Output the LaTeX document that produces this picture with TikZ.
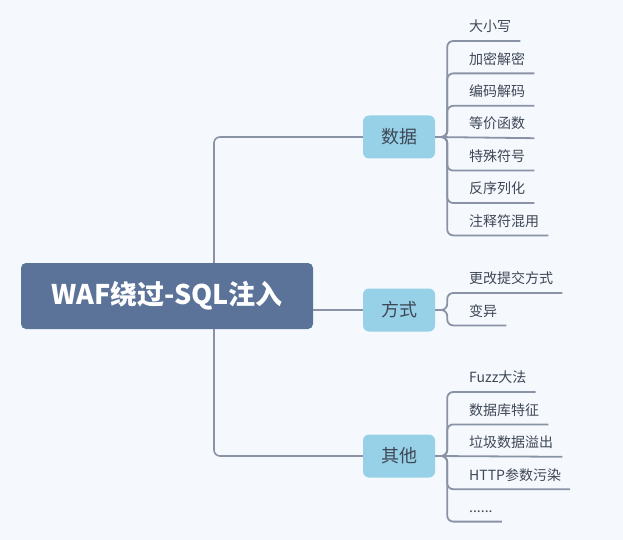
\documentclass[tikz,border=0pt]{standalone}
\usepackage{fontspec}
\setmainfont{Noto Sans CJK SC}
\usepackage{tikz}
\usetikzlibrary{positioning}
\definecolor{bgcol}{HTML}{F5F9FD}
\definecolor{rootcol}{HTML}{5B7399}
\definecolor{subcol}{HTML}{96D1E7}
\definecolor{linecol}{HTML}{8A93A6}
\definecolor{txtcol}{HTML}{3F4756}

\begin{document}
\begin{tikzpicture}[
  x=1pt, y=-1pt,
  node distance=0pt and 0pt,
  rootnode/.style={fill=rootcol,rounded corners=5pt,minimum width=292pt,minimum height=66pt,
    text=white,font=\fontsize{27}{30}\selectfont\bfseries},
  subnode/.style={fill=subcol,rounded corners=6pt,minimum width=72pt,minimum height=43pt,
    text=txtcol,font=\fontsize{18}{20}\selectfont},
  leaf/.style={anchor=south west,inner xsep=9pt,inner ysep=0pt,text height=23pt,text depth=9pt,
    text=txtcol,font=\fontsize{14}{16}\selectfont},
  trunk/.style={draw=linecol,line width=1.6pt,rounded corners=6pt},
  branch/.style={draw=linecol,line width=1.8pt,rounded corners=6pt}
]
\fill[bgcol] (0,0) rectangle (623,540);
\useasboundingbox (0,0) rectangle (623,540);

\coordinate (tr) at (214,296);
\node[rootnode] (root) at (167,296) {WAF绕过-SQL注入};
\node[subnode] (shuju) at (399,137) {数据};
\node[subnode] (fangshi) at (399,310) {方式};
\node[subnode] (qita) at (399,456) {其他};

% 数据
\node[leaf] (d1) at (460,41) {大小写};
\node[leaf,below=of d1.south west,anchor=north west] (d2) {加密解密};
\node[leaf,below=of d2.south west,anchor=north west] (d3) {编码解码};
\node[leaf,below=of d3.south west,anchor=north west] (d4) {等价函数};
\node[leaf,below=of d4.south west,anchor=north west] (d5) {特殊符号};
\node[leaf,below=of d5.south west,anchor=north west] (d6) {反序列化};
\node[leaf,below=of d6.south west,anchor=north west] (d7) {注释符混用};

% 方式
\node[leaf] (f1) at (460,293) {更改提交方式};
\node[leaf,below=of f1.south west,anchor=north west] (f2) {变异};

% 其他
\node[leaf] (q1) at (460,392) {Fuzz大法};
\node[leaf,below=of q1.south west,anchor=north west] (q2) {数据库特征};
\node[leaf,below=of q2.south west,anchor=north west] (q3) {垃圾数据溢出};
\node[leaf,below=of q3.south west,anchor=north west] (q4) {HTTP参数污染};
\node[leaf,below=of q4.south west,anchor=north west] (q5) {......};

\draw[trunk] (root.north -| tr) |- (shuju);
\draw[trunk] (root.south -| tr) |- (qita);
\draw[trunk] (fangshi -| root.east) -- (fangshi.west);

\draw[branch] (shuju.east) -- ++(12,0) |- (d1.south east);
\draw[branch] (shuju.east) -- ++(12,0) |- (d2.south east);
\draw[branch] (shuju.east) -- ++(12,0) |- (d3.south east);
\draw[branch] (shuju.east) -- (d4.south east);
\draw[branch] (shuju.east) -- ++(12,0) |- (d5.south east);
\draw[branch] (shuju.east) -- ++(12,0) |- (d6.south east);
\draw[branch] (shuju.east) -- ++(12,0) |- (d7.south east);

\draw[branch] (fangshi.east) -- ++(12,0) |- (f1.south east);
\draw[branch] (fangshi.east) -- ++(12,0) |- (f2.south east);

\draw[branch] (qita.east) -- ++(12,0) |- (q1.south east);
\draw[branch] (qita.east) -- ++(12,0) |- (q2.south east);
\draw[branch] (qita.east) -- (q3.south east);
\draw[branch] (qita.east) -- ++(12,0) |- (q4.south east);
\draw[branch] (qita.east) -- ++(12,0) |- (q5.south east);

\end{tikzpicture}
\end{document}
